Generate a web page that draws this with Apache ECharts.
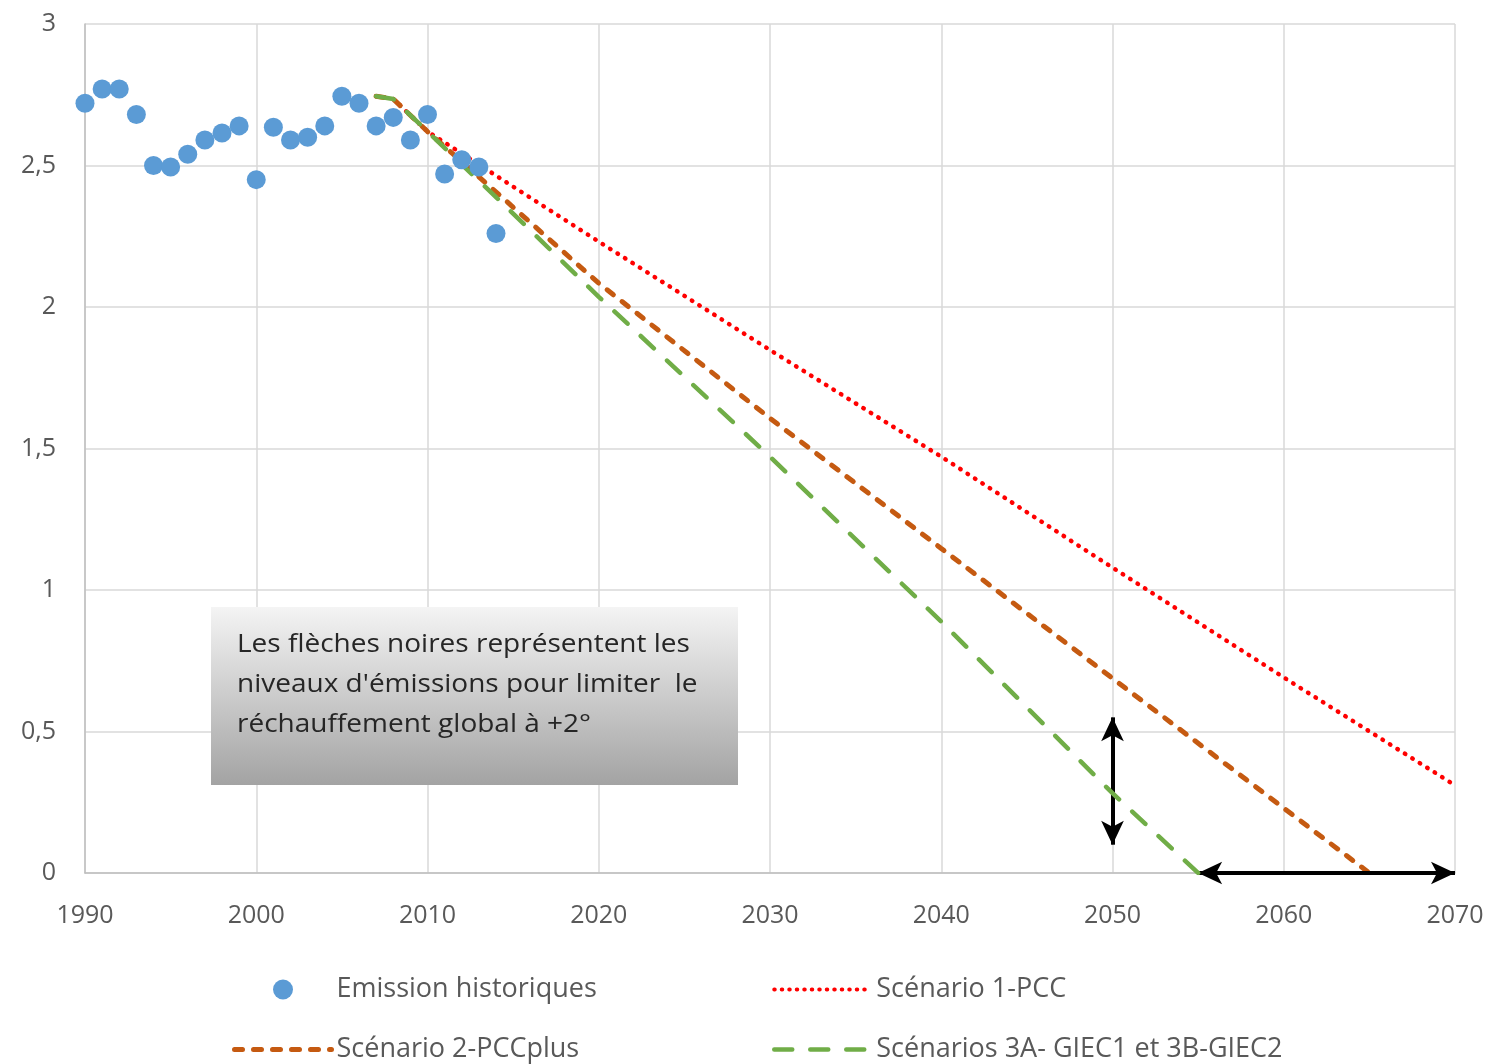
<!DOCTYPE html>
<html>
<head>
<meta charset="utf-8">
<script src="https://cdn.jsdelivr.net/npm/echarts@6/dist/echarts.min.js"></script>
<style>
html,body{margin:0;padding:0;background:#fff;}
#chart{width:1496px;height:1064px;}
</style>
</head>
<body>
<div id="chart"></div>
<script>
// Historical emissions
const histYears = [1990,1991,1992,1993,1994,1995,1996,1997,1998,1999,2000,2001,2002,2003,2004,2005,2006,2007,2008,2009,2010,2011,2012,2013,2014];
const histValues = [2.72,2.77,2.77,2.68,2.50,2.495,2.54,2.59,2.615,2.64,2.45,2.635,2.59,2.60,2.64,2.745,2.72,2.64,2.67,2.59,2.68,2.47,2.52,2.495,2.26];

// Scenario 1-PCC
const s1Years = [2007,2008,2010,2020,2030,2040,2050,2060,2070];
const s1Values = [2.745,2.735,2.62,2.231,1.848,1.471,1.079,0.691,0.31];

// Scenario 2-PCCplus
const s2Years = [2007,2008,2010,2013,2020,2030,2040,2050,2065];
const s2Values = [2.745,2.735,2.62,2.46,2.084,1.607,1.147,0.688,0];

// Scenarios 3A/3B
const s3Years = [2007,2008,2010,2015,2020,2030,2040,2050,2055];
const s3Values = [2.745,2.735,2.62,2.33,2.036,1.471,0.888,0.282,0];

// Arrows (data coordinates of the two tips)
const vArrow = [[2050,0.55],[2050,0.10]];
const hArrow = [[2055,0],[2070,0]];

const seriesNames = ['Emission historiques','Scénario 1-PCC','Scénario 2-PCCplus','Scénarios 3A- GIEC1 et 3B-GIEC2'];
const noteLines = ["Les flèches noires représentent les","niveaux d'émissions pour limiter  le","réchauffement global à +2°"];

const pair = (xs, ys) => xs.map((x,i) => [x, ys[i]]);

const chart = echarts.init(document.getElementById('chart'), null, {renderer:'canvas'});
const axisFont = {fontFamily:'Open Sans', fontSize:25, color:'#595959'};
const legendText = {fontFamily:'Open Sans', fontSize:27, color:'#595959', lineHeight:22};

const redStyle = {color:'#ff0000',width:4.5,type:[0.5,8.3],cap:'round'};
const orangeStyle = {color:'#c55a11',width:5,type:[8,11],cap:'round'};
const greenStyle = {color:'#70ad47',width:4.5,type:[18,18],cap:'round'};

chart.setOption({
  animation:false,
  backgroundColor:'#ffffff',
  grid:{left:85,right:41,top:24,bottom:191,containLabel:false},
  xAxis:{
    type:'value', min:1990, max:2070, interval:10,
    axisLine:{show:true,lineStyle:{color:'#bfbfbf',width:1.5}},
    axisTick:{show:false},
    axisLabel:Object.assign({margin:30, formatter:v => String(v)},axisFont),
    splitLine:{show:true,lineStyle:{color:'#d9d9d9',width:1.5}}
  },
  yAxis:{
    type:'value', min:0, max:3, interval:0.5,
    axisLine:{show:true,lineStyle:{color:'#bfbfbf',width:1.5}},
    axisTick:{show:false},
    axisLabel:Object.assign({margin:29, formatter:v => String(v).replace('.',',')},axisFont),
    splitLine:{show:true,lineStyle:{color:'#d9d9d9',width:1.5}}
  },
  legend:[
    {
      orient:'vertical', left:232, bottom:1, itemWidth:97, itemHeight:20, itemGap:33,
      data:[
        {name:seriesNames[0],icon:'circle'},
        {name:seriesNames[2],itemStyle:{opacity:0},lineStyle:orangeStyle}
      ],
      textStyle:legendText, selectedMode:false, padding:0
    },
    {
      orient:'vertical', left:772, bottom:1, itemWidth:97, itemHeight:20, itemGap:33,
      data:[
        {name:seriesNames[1],itemStyle:{opacity:0},lineStyle:{color:'#ff0000',width:4,type:[0.5,7],cap:'round'}},
        {name:seriesNames[3],itemStyle:{opacity:0},lineStyle:greenStyle}
      ],
      textStyle:legendText, selectedMode:false, padding:0
    }
  ],
  series:[
    {
      name:seriesNames[1], type:'line', data:pair(s1Years,s1Values),
      symbol:'none', z:3, lineStyle:redStyle, itemStyle:{color:'#ff0000'}
    },
    {
      name:seriesNames[2], type:'line', data:pair(s2Years,s2Values),
      symbol:'none', z:4, lineStyle:orangeStyle, itemStyle:{color:'#c55a11'}
    },
    {
      name:seriesNames[3], type:'line', data:pair(s3Years,s3Values),
      symbol:'none', z:5, lineStyle:greenStyle, itemStyle:{color:'#70ad47'},
      markLine:{
        silent:true, animation:false,
        symbol:['arrow','arrow'], symbolSize:[17,24],
        label:{show:false},
        lineStyle:{color:'#000000',width:4,type:'solid'},
        emphasis:{disabled:true},
        data:[
          [{coord:vArrow[0]},{coord:vArrow[1]}],
          [{coord:hArrow[0]},{coord:hArrow[1]}]
        ]
      }
    },
    {
      name:seriesNames[0], type:'scatter', data:pair(histYears,histValues),
      symbol:'circle', symbolSize:19, z:6,
      itemStyle:{color:'#5b9bd5',opacity:1}
    }
  ],
  graphic:[
    {type:'rect', left:211, top:607, z:100, zlevel:1,
      shape:{width:527,height:178},
      style:{fill:new echarts.graphic.LinearGradient(0,0,0,1,[{offset:0,color:'#f4f4f4'},{offset:1,color:'#a3a3a3'}])}},
    {type:'text', left:237, top:625, z:101, zlevel:1, scaleX:1.12,
      style:{text:noteLines.join('\n'), fontFamily:'Open Sans', fontSize:25, lineHeight:40, fill:'#262626'}}
  ]
});
</script>
</body>
</html>
